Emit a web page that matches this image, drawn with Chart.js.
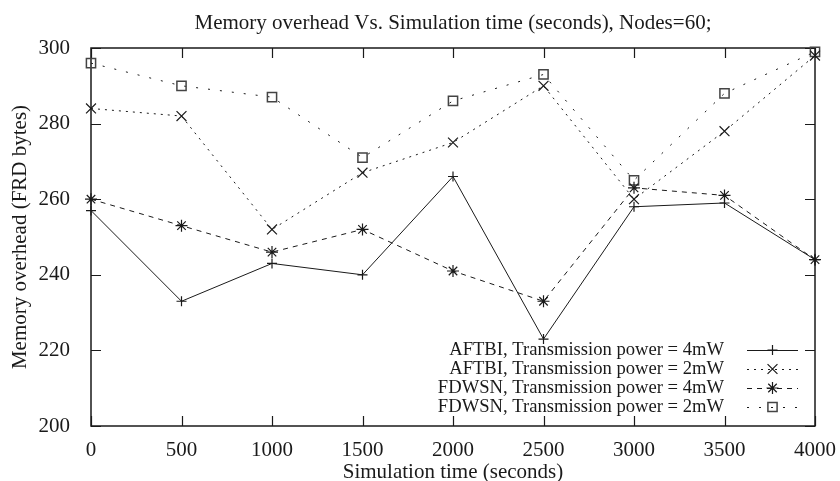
<!DOCTYPE html>
<html><head><meta charset="utf-8">
<script src="https://cdn.jsdelivr.net/npm/chart.js@4/dist/chart.umd.min.js"></script>
<style>html,body{margin:0;padding:0;background:#fff}#wrap{width:840px;height:481px}</style>
</head><body><div id="wrap"><canvas id="c" width="840" height="481"></canvas></div>
<script>
const times = [0, 500, 1000, 1500, 2000, 2500, 3000, 3500, 4000];
const aftbi4mW = [257, 233, 243, 240, 266, 223, 258, 259, 244];
const aftbi2mW = [284, 282, 252, 267, 275, 290, 260, 278, 298];
const fdwsn4mW = [260, 253, 246, 252, 241, 233, 263, 261, 244];
const fdwsn2mW = [296, 290, 287, 271, 286, 293, 265, 288, 299];
const seriesNames = [
  'AFTBI, Transmission power = 4mW',
  'AFTBI, Transmission power = 2mW',
  'FDWSN, Transmission power = 4mW',
  'FDWSN, Transmission power = 2mW'
];
const chartTitle = 'Memory overhead Vs. Simulation time (seconds), Nodes=60;';
const xTickValues = [0, 500, 1000, 1500, 2000, 2500, 3000, 3500, 4000];
const yTickValues = [200, 220, 240, 260, 280, 300];

const FONT = 'Liberation Serif';
const INK = '#1a1a1a';
const toXY = vals => vals.map((v, i) => ({x: times[i], y: v}));

const styles = [
  {pointStyle: 'cross', pointRadius: 5, borderDash: []},
  {pointStyle: 'crossRot', pointRadius: 7, borderDash: [2, 5]},
  {pointStyle: 'star', pointRadius: 6, borderDash: [5, 5]},
  {pointStyle: 'rect', pointRadius: 6.5, borderDash: [2, 10]}
];
const seriesData = [aftbi4mW, aftbi2mW, fdwsn4mW, fdwsn2mW];

const datasets = seriesData.map((vals, i) => ({
  label: seriesNames[i],
  data: toXY(vals),
  borderColor: INK,
  borderWidth: 1,
  borderDash: styles[i].borderDash,
  pointStyle: styles[i].pointStyle,
  pointRadius: styles[i].pointRadius,
  pointBorderColor: i === 3 ? '#444' : INK,
  pointBorderWidth: i === 3 ? 1.5 : 1.2,
  pointBackgroundColor: 'rgba(0,0,0,0)',
  fill: false,
  tension: 0,
  clip: false
}));

const framePlugin = {
  id: 'frame',
  beforeDatasetsDraw(chart) {
    const {ctx, chartArea: a, scales} = chart;
    ctx.save();
    ctx.strokeStyle = INK;
    ctx.lineWidth = 1.5;
    ctx.strokeRect(a.left, a.top, a.right - a.left, a.bottom - a.top);
    ctx.lineWidth = 1.2;
    const L = 10;
    ctx.beginPath();
    xTickValues.forEach(v => {
      const x = Math.round(scales.x.getPixelForValue(v)) + 0.5;
      ctx.moveTo(x, a.bottom); ctx.lineTo(x, a.bottom - L);
      ctx.moveTo(x, a.top); ctx.lineTo(x, a.top + L);
    });
    yTickValues.forEach(v => {
      const y = Math.round(scales.y.getPixelForValue(v)) + 0.5;
      ctx.moveTo(a.left, y); ctx.lineTo(a.left + L, y);
      ctx.moveTo(a.right, y); ctx.lineTo(a.right - L, y);
    });
    ctx.stroke();
    ctx.restore();
  }
};

const titlePlugin = {
  id: 'plotTitle',
  afterDraw(chart) {
    const {ctx, chartArea: a} = chart;
    ctx.save();
    ctx.font = '21px "' + FONT + '"';
    ctx.fillStyle = INK;
    ctx.textAlign = 'center';
    ctx.textBaseline = 'alphabetic';
    ctx.fillText(chartTitle, (a.left + a.right) / 2, 29);
    ctx.restore();
  }
};

const legendPlugin = {
  id: 'keyBox',
  afterDraw(chart) {
    const {ctx} = chart;
    const textRight = 724, x0 = 747, x1 = 798, y0 = 350, dy = 19;
    ctx.save();
    ctx.font = '18.6px "' + FONT + '"';
    ctx.fillStyle = INK;
    ctx.textAlign = 'right';
    ctx.textBaseline = 'middle';
    chart.data.datasets.forEach((ds, i) => {
      const y = y0 + i * dy;
      ctx.fillText(ds.label, textRight, y);
      ctx.save();
      ctx.strokeStyle = ds.borderColor;
      ctx.lineWidth = ds.borderWidth;
      ctx.setLineDash(ds.borderDash);
      ctx.beginPath();
      ctx.moveTo(x0, y + 0.5); ctx.lineTo(x1, y + 0.5);
      ctx.stroke();
      ctx.restore();
      ctx.save();
      ctx.strokeStyle = ds.pointBorderColor;
      ctx.fillStyle = ds.pointBackgroundColor;
      ctx.lineWidth = ds.pointBorderWidth;
      Chart.helpers.drawPoint(ctx, {pointStyle: ds.pointStyle, radius: ds.pointRadius, rotation: 0, borderWidth: ds.pointBorderWidth}, (x0 + x1) / 2, y);
      ctx.restore();
    });
    ctx.restore();
  }
};

new Chart(document.getElementById('c'), {
  type: 'line',
  data: {datasets},
  plugins: [framePlugin, titlePlugin, legendPlugin],
  options: {
    responsive: false,
    animation: false,
    devicePixelRatio: 1,
    layout: {padding: {top: 48, right: 21, bottom: 0, left: 0}},
    plugins: {
      legend: {display: false},
      tooltip: {enabled: false},
      title: {display: false}
    },
    scales: {
      x: {
        type: 'linear', min: 0, max: 4000,
        afterBuildTicks: s => { s.ticks = xTickValues.map(v => ({value: v})); },
        afterFit: s => { s.height = 55; },
        grid: {display: false}, border: {display: false},
        ticks: {color: INK, font: {family: FONT, size: 21}, padding: 4, maxRotation: 0, autoSkip: false,
                callback: v => String(v)},
        title: {display: true, text: 'Simulation time (seconds)', color: INK, font: {family: FONT, size: 21, lineHeight: 0.8}, padding: {top: 0, bottom: 0}}
      },
      y: {
        type: 'linear', min: 200, max: 300,
        afterBuildTicks: s => { s.ticks = yTickValues.map(v => ({value: v})); },
        afterFit: s => { s.width = 91; },
        grid: {display: false}, border: {display: false},
        ticks: {color: INK, font: {family: FONT, size: 21}, padding: 13, callback: v => String(v)},
        title: {display: true, text: 'Memory overhead (FRD bytes)', color: INK, font: {family: FONT, size: 21, lineHeight: 1.2}, padding: {top: 8, bottom: 0}}
      }
    }
  }
});
</script></body></html>
